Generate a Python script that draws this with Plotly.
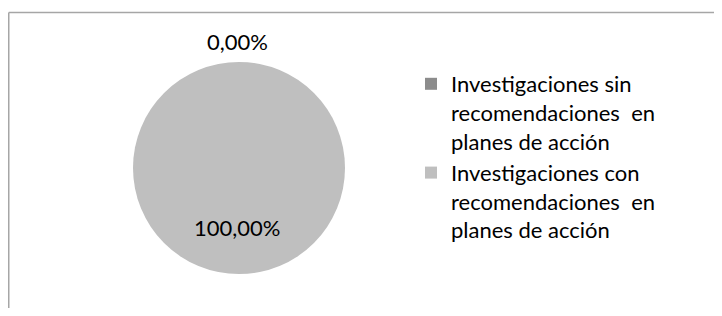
import plotly.graph_objects as go

labels = [
    "Investigaciones sin<br>recomendaciones\u00a0 en<br>planes de acción",
    "Investigaciones con<br>recomendaciones\u00a0 en<br>planes de acción",
]
values = [0.0, 100.0]
colors = ["#8C8C8C", "#BFBFBF"]

OFF = 8  # page body margin (on every side)
W, H = 722 - 2 * OFF, 316 - 2 * OFF
FONT = "Lato"
FS = 22

def pct(v):
    return f"{v:.2f}".replace(".", ",") + "%"

def px_x(x):
    return (x - OFF) / W

def px_y(y):
    return 1 - (y - OFF) / H

fig = go.Figure(
    go.Pie(
        labels=labels,
        values=values,
        sort=False,
        direction="clockwise",
        rotation=0,
        marker=dict(colors=colors, line=dict(width=0)),
        textinfo="none",
        hoverinfo="label+percent",
        domain=dict(x=[px_x(133), px_x(345)], y=[px_y(274), px_y(62)]),
    )
)

# data labels
label_pos = [(237, 42), (237, 228)]
for v, (px, py) in zip(values, label_pos):
    fig.add_annotation(
        x=px_x(px), y=px_y(py), xref="paper", yref="paper",
        text=pct(v), showarrow=False,
        font=dict(family=FONT, size=FS, color="#000000"),
        xanchor="center", yanchor="middle",
    )

# chart border (left and top edges visible)
border = dict(color="#A6A6A6", width=1.5)
fig.add_shape(type="line", xref="paper", yref="paper",
              x0=px_x(8.75), x1=px_x(8.75), y0=0, y1=px_y(12.5), line=border)
fig.add_shape(type="line", xref="paper", yref="paper",
              x0=px_x(8.75), x1=1, y0=px_y(12.5), y1=px_y(12.5), line=border)

fig.update_layout(
    width=W, height=H,
    margin=dict(l=0, r=0, t=0, b=0),
    paper_bgcolor="white", plot_bgcolor="white",
    font=dict(family=FONT, size=FS, color="#000000"),
    legend=dict(
        x=px_x(411), y=px_y(63), xanchor="left", yanchor="top",
        font=dict(family=FONT, size=FS, color="#000000"),
        itemsizing="constant", valign="top",
        bgcolor="rgba(0,0,0,0)",
    ),
    showlegend=True,
)

fig.write_html("out.html")
